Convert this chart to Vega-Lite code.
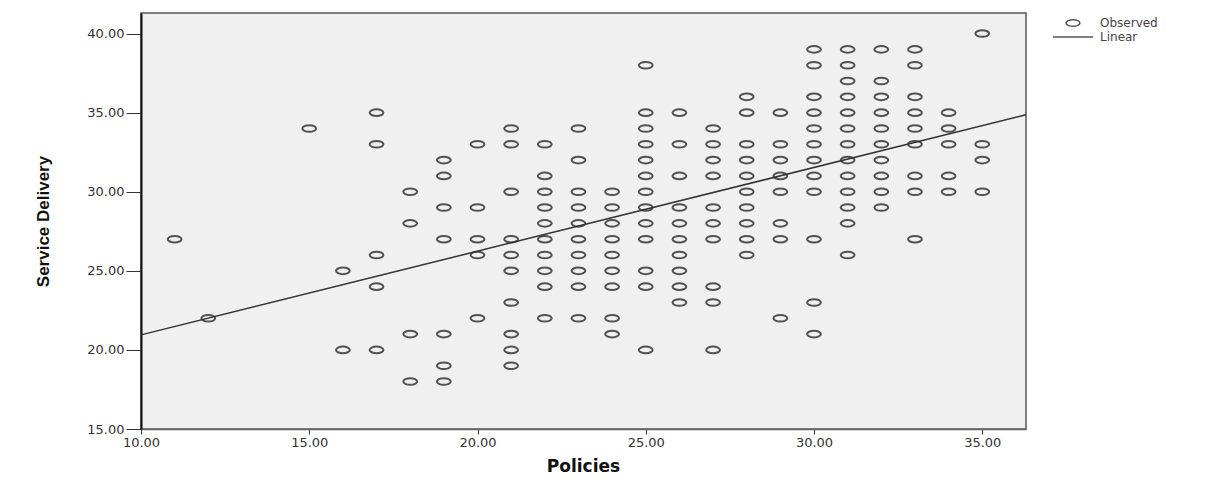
{
  "$schema": "https://vega.github.io/schema/vega-lite/v6.json",
  "width": 885,
  "height": 416,
  "autosize": {"type": "none"},
  "padding": {"left": 141, "top": 13, "right": 190, "bottom": 57},
  "background": "white",
  "config": {
    "view": {"fill": "#f0f0f0", "stroke": "#555555", "strokeWidth": 1.5},
    "font": "DejaVu Sans"
  },
  "datasets": {
    "observed": [
      {"policies": 35, "service": 40},
      {"policies": 30, "service": 39}, {"policies": 31, "service": 39}, {"policies": 32, "service": 39}, {"policies": 33, "service": 39},
      {"policies": 25, "service": 38}, {"policies": 30, "service": 38}, {"policies": 31, "service": 38}, {"policies": 33, "service": 38},
      {"policies": 31, "service": 37}, {"policies": 32, "service": 37},
      {"policies": 28, "service": 36}, {"policies": 30, "service": 36}, {"policies": 31, "service": 36}, {"policies": 32, "service": 36}, {"policies": 33, "service": 36},
      {"policies": 17, "service": 35}, {"policies": 25, "service": 35}, {"policies": 26, "service": 35}, {"policies": 28, "service": 35}, {"policies": 29, "service": 35}, {"policies": 30, "service": 35}, {"policies": 31, "service": 35}, {"policies": 32, "service": 35}, {"policies": 33, "service": 35}, {"policies": 34, "service": 35},
      {"policies": 15, "service": 34}, {"policies": 21, "service": 34}, {"policies": 23, "service": 34}, {"policies": 25, "service": 34}, {"policies": 27, "service": 34}, {"policies": 30, "service": 34}, {"policies": 31, "service": 34}, {"policies": 32, "service": 34}, {"policies": 33, "service": 34}, {"policies": 34, "service": 34},
      {"policies": 17, "service": 33}, {"policies": 20, "service": 33}, {"policies": 21, "service": 33}, {"policies": 22, "service": 33}, {"policies": 25, "service": 33}, {"policies": 26, "service": 33}, {"policies": 27, "service": 33}, {"policies": 28, "service": 33}, {"policies": 29, "service": 33}, {"policies": 30, "service": 33}, {"policies": 31, "service": 33}, {"policies": 32, "service": 33}, {"policies": 33, "service": 33}, {"policies": 34, "service": 33}, {"policies": 35, "service": 33},
      {"policies": 19, "service": 32}, {"policies": 23, "service": 32}, {"policies": 25, "service": 32}, {"policies": 27, "service": 32}, {"policies": 28, "service": 32}, {"policies": 29, "service": 32}, {"policies": 30, "service": 32}, {"policies": 31, "service": 32}, {"policies": 32, "service": 32}, {"policies": 35, "service": 32},
      {"policies": 19, "service": 31}, {"policies": 22, "service": 31}, {"policies": 25, "service": 31}, {"policies": 26, "service": 31}, {"policies": 27, "service": 31}, {"policies": 28, "service": 31}, {"policies": 29, "service": 31}, {"policies": 30, "service": 31}, {"policies": 31, "service": 31}, {"policies": 32, "service": 31}, {"policies": 33, "service": 31}, {"policies": 34, "service": 31},
      {"policies": 18, "service": 30}, {"policies": 21, "service": 30}, {"policies": 22, "service": 30}, {"policies": 23, "service": 30}, {"policies": 24, "service": 30}, {"policies": 25, "service": 30}, {"policies": 28, "service": 30}, {"policies": 29, "service": 30}, {"policies": 30, "service": 30}, {"policies": 31, "service": 30}, {"policies": 32, "service": 30}, {"policies": 33, "service": 30}, {"policies": 34, "service": 30}, {"policies": 35, "service": 30},
      {"policies": 19, "service": 29}, {"policies": 20, "service": 29}, {"policies": 22, "service": 29}, {"policies": 23, "service": 29}, {"policies": 24, "service": 29}, {"policies": 25, "service": 29}, {"policies": 26, "service": 29}, {"policies": 27, "service": 29}, {"policies": 28, "service": 29}, {"policies": 31, "service": 29}, {"policies": 32, "service": 29},
      {"policies": 18, "service": 28}, {"policies": 22, "service": 28}, {"policies": 23, "service": 28}, {"policies": 24, "service": 28}, {"policies": 25, "service": 28}, {"policies": 26, "service": 28}, {"policies": 27, "service": 28}, {"policies": 28, "service": 28}, {"policies": 29, "service": 28}, {"policies": 31, "service": 28},
      {"policies": 11, "service": 27}, {"policies": 19, "service": 27}, {"policies": 20, "service": 27}, {"policies": 21, "service": 27}, {"policies": 22, "service": 27}, {"policies": 23, "service": 27}, {"policies": 24, "service": 27}, {"policies": 25, "service": 27}, {"policies": 26, "service": 27}, {"policies": 27, "service": 27}, {"policies": 28, "service": 27}, {"policies": 29, "service": 27}, {"policies": 30, "service": 27}, {"policies": 33, "service": 27},
      {"policies": 17, "service": 26}, {"policies": 20, "service": 26}, {"policies": 21, "service": 26}, {"policies": 22, "service": 26}, {"policies": 23, "service": 26}, {"policies": 24, "service": 26}, {"policies": 26, "service": 26}, {"policies": 28, "service": 26}, {"policies": 31, "service": 26},
      {"policies": 16, "service": 25}, {"policies": 21, "service": 25}, {"policies": 22, "service": 25}, {"policies": 23, "service": 25}, {"policies": 24, "service": 25}, {"policies": 25, "service": 25}, {"policies": 26, "service": 25},
      {"policies": 17, "service": 24}, {"policies": 22, "service": 24}, {"policies": 23, "service": 24}, {"policies": 24, "service": 24}, {"policies": 25, "service": 24}, {"policies": 26, "service": 24}, {"policies": 27, "service": 24},
      {"policies": 21, "service": 23}, {"policies": 26, "service": 23}, {"policies": 27, "service": 23}, {"policies": 30, "service": 23},
      {"policies": 12, "service": 22}, {"policies": 20, "service": 22}, {"policies": 22, "service": 22}, {"policies": 23, "service": 22}, {"policies": 24, "service": 22}, {"policies": 29, "service": 22},
      {"policies": 18, "service": 21}, {"policies": 19, "service": 21}, {"policies": 21, "service": 21}, {"policies": 24, "service": 21}, {"policies": 30, "service": 21},
      {"policies": 16, "service": 20}, {"policies": 17, "service": 20}, {"policies": 21, "service": 20}, {"policies": 25, "service": 20}, {"policies": 27, "service": 20},
      {"policies": 19, "service": 19}, {"policies": 21, "service": 19},
      {"policies": 18, "service": 18}, {"policies": 19, "service": 18}
    ],
    "fit": [
      {"policies": 10, "service": 20.95},
      {"policies": 36.3, "service": 34.87}
    ]
  },
  "layer": [
    {
      "data": {"name": "observed"},
      "mark": {"type": "point", "filled": false, "stroke": "#404040", "strokeWidth": 2, "size": 144, "opacity": 0.9},
      "encoding": {
        "x": {
          "field": "policies", "type": "quantitative",
          "scale": {"domain": [10, 36.3], "nice": false, "zero": false},
          "axis": {
            "title": "Policies", "values": [10, 15, 20, 25, 30, 35], "format": ".2f", "labelFlush": false,
            "labelFont": "DejaVu Sans", "labelFontSize": 13, "labelColor": "#333333",
            "tickSize": 5, "tickColor": "#333333", "labelPadding": 2,
            "domainColor": "#666666", "domainWidth": 1.5, "grid": false,
            "titleFont": "DejaVu Sans", "titleFontSize": 17, "titleFontWeight": "bold", "titleColor": "#111111",
            "titleX": 442, "titleY": 29, "titleBaseline": "top", "titleAlign": "center"
          }
        },
        "y": {
          "field": "service", "type": "quantitative",
          "scale": {"domain": [15, 41.3], "nice": false, "zero": false},
          "axis": {
            "title": "Service Delivery", "values": [15, 20, 25, 30, 35, 40], "format": ".2f", "labelFlush": false,
            "labelFont": "DejaVu Sans", "labelFontSize": 13, "labelColor": "#333333",
            "tickSize": 15, "tickColor": "#333333", "labelPadding": 2,
            "domainColor": "#111111", "domainWidth": 2, "grid": false,
            "titleFont": "Liberation Sans Narrow, Liberation Sans", "titleFontSize": 17, "titleFontWeight": "bold", "titleColor": "#111111",
            "titleX": -98, "titleY": 208, "titleAngle": -90, "titleAlign": "center", "titleBaseline": "middle"
          }
        },
        "shape": {
          "datum": "Observed", "type": "nominal",
          "scale": {"domain": ["Observed", "Linear"], "range": ["M-1.15,0A1.15,0.55 0 1,1 1.15,0A1.15,0.55 0 1,1 -1.15,0Z", "M-3.35,0L3.35,0"]},
          "legend": {
            "orient": "none", "legendX": 911, "legendY": 3, "title": null,
            "symbolSize": 144, "symbolOffset": 14, "labelOffset": 20, "rowPadding": 0, "padding": 0,
            "labelFont": "DejaVu Sans", "labelFontSize": 12, "labelColor": "#444444",
            "symbolStrokeColor": "#444444", "symbolStrokeWidth": 1.5, "symbolFillColor": "transparent", "symbolType": "circle"
          }
        }
      }
    },
    {
      "data": {"name": "fit"},
      "mark": {"type": "line", "color": "#333333", "strokeWidth": 1.5},
      "encoding": {
        "x": {"field": "policies", "type": "quantitative"},
        "y": {"field": "service", "type": "quantitative"}
      }
    }
  ]
}
